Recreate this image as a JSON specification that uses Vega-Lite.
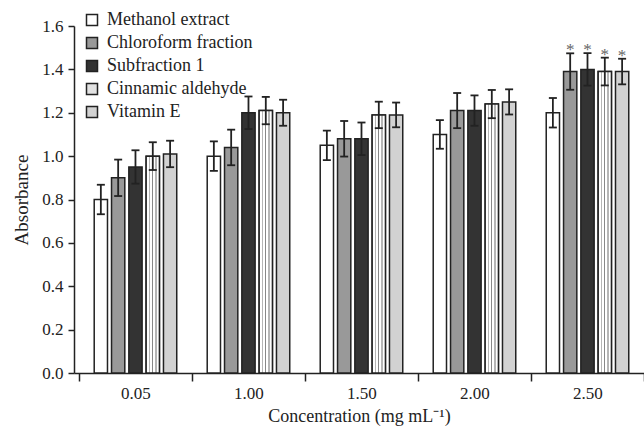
{
  "$schema": "https://vega.github.io/schema/vega-lite/v6.json",
  "width": 570,
  "height": 347,
  "autosize": "none",
  "padding": {"left": 74, "top": 26, "right": 0, "bottom": 56},
  "background": "white",
  "config": {"view": {"stroke": null}, "font": "Liberation Serif"},
  "data": {"values": [
    {"c": "0.05", "s": "Methanol extract", "v": 0.80, "lo": 0.732, "hi": 0.868, "star": false},
    {"c": "0.05", "s": "Chloroform fraction", "v": 0.90, "lo": 0.816, "hi": 0.984, "star": false},
    {"c": "0.05", "s": "Subfraction 1", "v": 0.95, "lo": 0.873, "hi": 1.027, "star": false},
    {"c": "0.05", "s": "Cinnamic aldehyde", "v": 1.00, "lo": 0.936, "hi": 1.064, "star": false},
    {"c": "0.05", "s": "Vitamin E", "v": 1.01, "lo": 0.949, "hi": 1.071, "star": false},
    {"c": "1.00", "s": "Methanol extract", "v": 1.00, "lo": 0.932, "hi": 1.068, "star": false},
    {"c": "1.00", "s": "Chloroform fraction", "v": 1.04, "lo": 0.958, "hi": 1.122, "star": false},
    {"c": "1.00", "s": "Subfraction 1", "v": 1.20, "lo": 1.125, "hi": 1.275, "star": false},
    {"c": "1.00", "s": "Cinnamic aldehyde", "v": 1.21, "lo": 1.147, "hi": 1.273, "star": false},
    {"c": "1.00", "s": "Vitamin E", "v": 1.20, "lo": 1.14, "hi": 1.26, "star": false},
    {"c": "1.50", "s": "Methanol extract", "v": 1.05, "lo": 0.982, "hi": 1.118, "star": false},
    {"c": "1.50", "s": "Chloroform fraction", "v": 1.08, "lo": 0.998, "hi": 1.162, "star": false},
    {"c": "1.50", "s": "Subfraction 1", "v": 1.08, "lo": 1.005, "hi": 1.155, "star": false},
    {"c": "1.50", "s": "Cinnamic aldehyde", "v": 1.19, "lo": 1.129, "hi": 1.251, "star": false},
    {"c": "1.50", "s": "Vitamin E", "v": 1.19, "lo": 1.133, "hi": 1.247, "star": false},
    {"c": "2.00", "s": "Methanol extract", "v": 1.10, "lo": 1.034, "hi": 1.166, "star": false},
    {"c": "2.00", "s": "Chloroform fraction", "v": 1.21, "lo": 1.129, "hi": 1.291, "star": false},
    {"c": "2.00", "s": "Subfraction 1", "v": 1.21, "lo": 1.14, "hi": 1.28, "star": false},
    {"c": "2.00", "s": "Cinnamic aldehyde", "v": 1.24, "lo": 1.175, "hi": 1.305, "star": false},
    {"c": "2.00", "s": "Vitamin E", "v": 1.25, "lo": 1.192, "hi": 1.308, "star": false},
    {"c": "2.50", "s": "Methanol extract", "v": 1.20, "lo": 1.132, "hi": 1.268, "star": false},
    {"c": "2.50", "s": "Chloroform fraction", "v": 1.39, "lo": 1.306, "hi": 1.474, "star": true},
    {"c": "2.50", "s": "Subfraction 1", "v": 1.40, "lo": 1.325, "hi": 1.475, "star": true},
    {"c": "2.50", "s": "Cinnamic aldehyde", "v": 1.39, "lo": 1.326, "hi": 1.454, "star": true},
    {"c": "2.50", "s": "Vitamin E", "v": 1.39, "lo": 1.331, "hi": 1.449, "star": true}
  ]},
  "encoding": {
    "x": {
      "field": "c", "type": "nominal",
      "sort": ["0.05", "1.00", "1.50", "2.00", "2.50"],
      "scale": {"paddingInner": 0, "paddingOuter": 0.022, "align": 1},
      "axis": {
        "title": "Concentration (mg mL⁻¹)",
        "labelAngle": 0, "tickBand": "extent", "tickSize": 8, "labelPadding": 4,
        "labelFont": "Liberation Serif", "labelFontSize": 17, "labelColor": "#222",
        "titleFont": "Liberation Serif", "titleFontSize": 18, "titleFontWeight": "normal", "titleColor": "#222",
        "titlePadding": 6, "domainColor": "#222", "domainWidth": 1.5, "tickColor": "#222", "tickWidth": 1.5, "grid": false
      }
    },
    "xOffset": {
      "field": "s", "type": "nominal",
      "sort": ["Methanol extract", "Chloroform fraction", "Subfraction 1", "Cinnamic aldehyde", "Vitamin E"],
      "scale": {"paddingInner": 0.233, "paddingOuter": 0.88}
    }
  },
  "layer": [
    {
      "mark": {"type": "bar", "stroke": "#222", "strokeWidth": 1.5, "opacity": 1},
      "encoding": {
        "y": {
          "field": "v", "type": "quantitative",
          "scale": {"domain": [0, 1.6], "nice": false},
          "axis": {
            "title": "Absorbance", "values": [0, 0.2, 0.4, 0.6, 0.8, 1.0, 1.2, 1.4, 1.6], "format": ".1f",
            "tickSize": 6, "labelPadding": 5, "grid": false,
            "labelFont": "Liberation Serif", "labelFontSize": 17, "labelColor": "#222",
            "titleFont": "Liberation Serif", "titleFontSize": 19, "titleFontWeight": "normal", "titleColor": "#222",
            "titlePadding": 10, "domainColor": "#222", "domainWidth": 1.5, "tickColor": "#222", "tickWidth": 1.5
          }
        },
        "fill": {
          "field": "s", "type": "nominal",
          "sort": ["Methanol extract", "Chloroform fraction", "Subfraction 1", "Cinnamic aldehyde", "Vitamin E"],
          "scale": {
            "domain": ["Methanol extract", "Chloroform fraction", "Subfraction 1", "Cinnamic aldehyde", "Vitamin E"],
            "range": ["#ffffff", "#999999", "#333333", "#e2e2e2", "#d2d2d2"]
          },
          "legend": {
            "orient": "none", "legendX": 9, "legendY": -15, "padding": 0, "title": null,
            "symbolType": "square", "symbolSize": 121, "symbolStrokeColor": "#222", "symbolStrokeWidth": 1.5,
            "labelFont": "Liberation Serif", "labelFontSize": 18, "labelColor": "#222",
            "labelOffset": 6, "rowPadding": 5
          }
        }
      }
    },
    {
      "transform": [{"filter": "datum.s === 'Cinnamic aldehyde'"}],
      "mark": {
        "type": "bar", "stroke": "#222", "strokeWidth": 1.5, "opacity": 1,
        "fill": {"gradient": "linear", "x1": 0, "y1": 0, "x2": 1, "y2": 0, "stops": [
          {"offset": 0, "color": "#ffffff"}, {"offset": 0.18, "color": "#ffffff"},
          {"offset": 0.18, "color": "#b5b5b5"}, {"offset": 0.32, "color": "#b5b5b5"},
          {"offset": 0.32, "color": "#ffffff"}, {"offset": 0.45, "color": "#ffffff"},
          {"offset": 0.45, "color": "#888888"}, {"offset": 0.55, "color": "#888888"},
          {"offset": 0.55, "color": "#ffffff"}, {"offset": 0.68, "color": "#ffffff"},
          {"offset": 0.68, "color": "#b5b5b5"}, {"offset": 0.82, "color": "#b5b5b5"},
          {"offset": 0.82, "color": "#ffffff"}, {"offset": 1, "color": "#ffffff"}
        ]}
      },
      "encoding": {"y": {"field": "v", "type": "quantitative"}}
    },
    {
      "mark": {"type": "rule", "color": "#222", "strokeWidth": 1.8},
      "encoding": {
        "y": {"field": "lo", "type": "quantitative"},
        "y2": {"field": "hi"}
      }
    },
    {
      "mark": {"type": "tick", "color": "#222", "thickness": 1.8, "size": 8, "opacity": 1},
      "encoding": {"y": {"field": "lo", "type": "quantitative"}}
    },
    {
      "mark": {"type": "tick", "color": "#222", "thickness": 1.8, "size": 8, "opacity": 1},
      "encoding": {"y": {"field": "hi", "type": "quantitative"}}
    },
    {
      "transform": [{"filter": "datum.star"}],
      "mark": {"type": "text", "text": "*", "font": "Liberation Serif", "fontSize": 17, "color": "#666", "baseline": "alphabetic", "dy": 2},
      "encoding": {"y": {"field": "hi", "type": "quantitative"}}
    }
  ]
}
